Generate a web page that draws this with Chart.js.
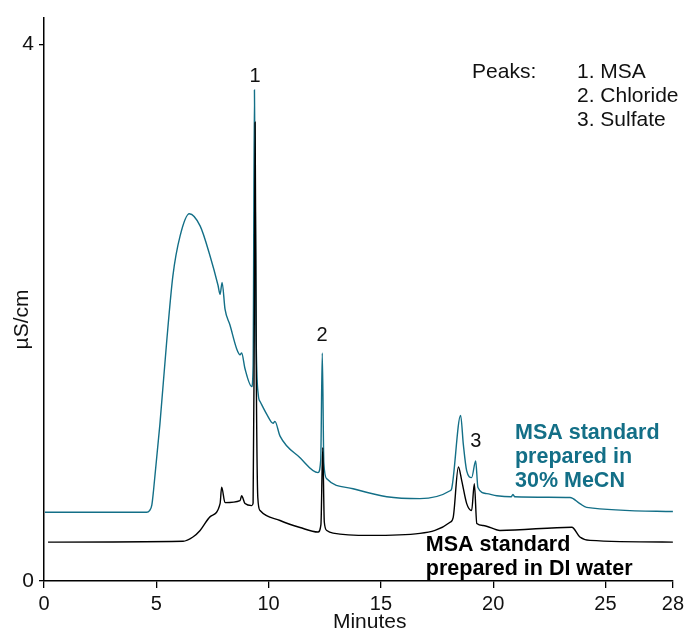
<!DOCTYPE html>
<html>
<head>
<meta charset="utf-8">
<script src="https://cdn.jsdelivr.net/npm/chart.js@4/dist/chart.umd.min.js"></script>
<style>
    html, body { margin: 0; padding: 0; background: #fff; }
    #wrap { width: 688px; height: 632px; }
</style>
</head>
<body>
<div id="wrap"><canvas id="chromChart" width="688" height="632"></canvas></div>
<script>
const xTicks = [0, 5, 10, 15, 20, 25, 28];
const yTicks = [0, 4];

// MSA standard prepared in DI water (black trace)
const waterTime = [0.18, 6.19, 6.63, 6.95, 7.40, 7.84, 7.91, 8.06, 8.73, 8.80, 8.95, 9.25, 9.31, 9.36, 9.40, 9.45, 9.52, 9.62,
    10.51, 11.40, 12.20, 12.33, 12.41, 12.48, 12.59, 12.87, 14.51, 16.74, 18.08, 18.22, 18.45, 18.60, 18.82, 19.04, 19.16,
    19.27, 19.55, 20.30, 23.50, 23.86, 24.31, 28.17];
const waterSignal = [0.29, 0.296, 0.328, 0.377, 0.48, 0.577, 0.70, 0.584, 0.599, 0.636, 0.577, 0.562, 0.58, 1.8, 3.42, 1.6, 0.62, 0.525,
    0.451, 0.399, 0.365, 0.42, 0.993, 0.44, 0.377, 0.357, 0.34, 0.355, 0.438, 0.475, 0.85, 0.747, 0.577, 0.525, 0.725,
    0.429, 0.414, 0.377, 0.401, 0.328, 0.303, 0.29];

// MSA standard prepared in 30% MeCN (teal trace)
const mecnTime = [0.04, 4.57, 4.70, 4.80, 4.88, 5.16, 5.46, 5.74, 6.06, 6.47, 6.95, 7.39, 7.75, 7.84, 7.93, 8.06, 8.28, 8.58, 8.73, 8.80,
    8.95, 9.25, 9.31, 9.37, 9.44, 9.54, 9.62, 9.92, 10.20, 10.28, 10.51, 11.40, 12.20, 12.32, 12.39, 12.46, 12.59, 13.76,
    15.26, 16.74, 18.08, 18.15, 18.55, 18.67, 18.82, 19.04, 19.22, 19.32, 19.71, 20.16, 20.80, 20.88, 20.96, 23.42, 23.86,
    24.16, 28.10];
const mecnSignal = [0.512, 0.512, 0.525, 0.565, 0.68, 1.168, 1.78, 2.277, 2.573, 2.738, 2.647, 2.425, 2.203, 2.137, 2.226, 2.026, 1.908, 1.73, 1.686, 1.70,
    1.582, 1.449, 1.6, 3.66, 1.9, 1.39, 1.338, 1.242, 1.176, 1.19, 1.08, 0.919, 0.808, 0.90, 1.70, 0.88, 0.762, 0.688,
    0.628, 0.614, 0.673, 0.688, 1.235, 1.018, 0.821, 0.771, 0.895, 0.697, 0.651, 0.636, 0.628, 0.645, 0.628, 0.623, 0.577,
    0.549, 0.518];

const peakNumbers = ['1', '2', '3'];
const peakTime = [9.40, 12.38, 19.23];
const peakLabelSignal = [3.76, 1.83, 1.04];
const peakNames = ['1. MSA', '2. Chloride', '3. Sulfate'];

const TEAL = '#136f87';
const FONT = "'Liberation Sans', Arial, Helvetica, sans-serif";

function toPoints(times, values) {
    return times.map(function (t, i) { return { x: t, y: values[i] }; });
}

// 피크 번호, 설명 텍스트, 축 제목
const notePlugin = {
    id: 'notes',
    afterDatasetsDraw(chart) {
        const { ctx, scales: { x, y } } = chart;
        ctx.save();
        ctx.textBaseline = 'middle';
        ctx.fillStyle = '#111';
        ctx.font = '20px ' + FONT;
        ctx.textAlign = 'center';
        peakNumbers.forEach(function (n, i) {
            ctx.fillText(n, x.getPixelForValue(peakTime[i]), y.getPixelForValue(peakLabelSignal[i]));
        });

        ctx.font = '21px ' + FONT;
        ctx.fillText('Minutes', x.getPixelForValue(14.5), 622);

        ctx.textAlign = 'left';
        ctx.fillText('Peaks:', x.getPixelForValue(19.06), y.getPixelForValue(3.79));
        peakNames.forEach(function (name, i) {
            ctx.fillText(name, x.getPixelForValue(23.73), y.getPixelForValue(3.79 - i * 0.178));
        });

        ctx.font = 'bold 21.5px ' + FONT;
        ctx.fillStyle = TEAL;
        ['MSA standard', 'prepared in', '30% MeCN'].forEach(function (line, i) {
            ctx.fillText(line, x.getPixelForValue(20.97), y.getPixelForValue(1.10 - i * 0.177));
        });
        ctx.fillStyle = '#000';
        ['MSA standard', 'prepared in DI water'].forEach(function (line, i) {
            ctx.fillText(line, x.getPixelForValue(17.0), y.getPixelForValue(0.266 - i * 0.177));
        });

        ctx.fillStyle = '#111';
        ctx.font = '21px ' + FONT;
        ctx.textAlign = 'center';
        ctx.translate(22, y.getPixelForValue(1.95));
        ctx.rotate(-Math.PI / 2);
        ctx.fillText('µS/cm', 0, 0);
        ctx.restore();
    }
};

const config = {
    type: 'line',
    data: {
        datasets: [{
            label: 'DI water',
            data: toPoints(waterTime, waterSignal),
            borderColor: '#000',
            borderWidth: 1.4,
            order: 0
        }, {
            label: '30% MeCN',
            data: toPoints(mecnTime, mecnSignal),
            borderColor: TEAL,
            borderWidth: 1.4,
            order: 1
        }]
    },
    options: {
        responsive: false,
        animation: false,
        devicePixelRatio: 1,
        parsing: false,
        layout: { padding: { top: 13, right: 15, left: 0, bottom: 0 } },
        elements: {
            point: { radius: 0 },
            line: { cubicInterpolationMode: 'monotone', fill: false }
        },
        plugins: { legend: { display: false }, tooltip: { enabled: false } },
        scales: {
            x: {
                type: 'linear',
                min: 0,
                max: 28,
                afterBuildTicks: function (scale) { scale.ticks = xTicks.map(function (v) { return { value: v }; }); },
                afterFit: function (scale) { scale.height = 51; },
                grid: { drawOnChartArea: false, drawTicks: true, tickLength: 7, color: '#000', lineWidth: 1.3 },
                border: { display: true, color: '#000', width: 1.5 },
                ticks: { color: '#111', font: { family: FONT, size: 20 }, padding: 4, maxRotation: 0, autoSkip: false }
            },
            y: {
                type: 'linear',
                min: 0,
                max: 4.2,
                afterBuildTicks: function (scale) { scale.ticks = yTicks.map(function (v) { return { value: v }; }); },
                afterFit: function (scale) { scale.width = 44; },
                grid: { drawOnChartArea: false, drawTicks: true, tickLength: 5, color: '#000', lineWidth: 1.3 },
                border: { display: true, color: '#000', width: 1.5 },
                ticks: { color: '#111', font: { family: FONT, size: 21 }, padding: 5 }
            }
        }
    },
    plugins: [notePlugin]
};

new Chart(document.getElementById('chromChart'), config);
</script>
</body>
</html>
